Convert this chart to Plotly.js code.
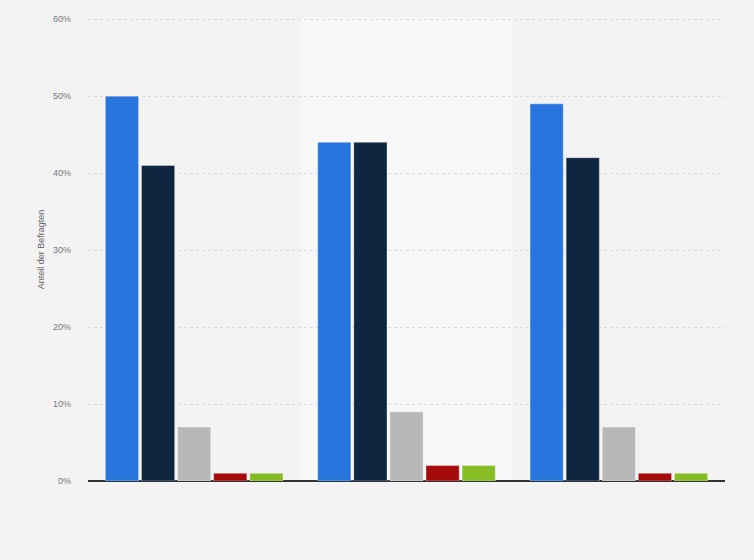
<!DOCTYPE html>
<html>
<head>
<meta charset="utf-8">
<script src="https://cdn.plot.ly/plotly-3.0.1.min.js"></script>
<style>html,body{margin:0;padding:0;background:#f3f3f3;}#chart{width:754px;height:560px;}</style>
</head>
<body>
<div id="chart"></div>
<script>
const categories = ["Gruppe 1", "Gruppe 2", "Gruppe 3"];
const seriesNames = ["Antwort 1", "Antwort 2", "Antwort 3", "Antwort 4", "Antwort 5"];
const series1 = [50, 44, 49];
const series2 = [41, 44, 42];
const series3 = [7, 9, 7];
const series4 = [1, 2, 1];
const series5 = [1, 2, 1];
const tickVals = [0, 10, 20, 30, 40, 50, 60];
const tickLabels = ["0%", "10%", "20%", "30%", "40%", "50%", "60%"];

const colors = ["#2876dd", "#0f2640", "#b8b8b8", "#a50a0a", "#86bc24"];
const allSeries = [series1, series2, series3, series4, series5];

const traces = allSeries.map((vals, i) => ({
  type: "bar",
  name: seriesNames[i],
  x: categories,
  y: vals,
  marker: {color: colors[i], line: {color: "rgba(255,255,255,0.35)", width: 1}},
  hoverinfo: "y"
}));

const layout = {
  width: 754, height: 560,
  paper_bgcolor: "#f3f3f3",
  plot_bgcolor: "#f3f3f3",
  margin: {l: 88, r: 29, t: 18, b: 79},
  showlegend: false,
  barmode: "group",
  bargap: 0.15,
  bargroupgap: 0.08,
  xaxis: {
    showticklabels: false,
    showgrid: false,
    zeroline: false,
    showline: false,
    ticks: ""
  },
  yaxis: {
    range: [0, 60.15],
    tickvals: tickVals,
    ticktext: tickLabels,
    showgrid: true,
    gridcolor: "#dadada",
    griddash: "dot",
    gridwidth: 1,
    zeroline: true,
    zerolinecolor: "#333333",
    zerolinewidth: 1.5,
    tickfont: {family: "Liberation Sans, Arial, sans-serif", size: 9, color: "#777777"},
    ticklabelstandoff: 16,
    title: {text: "Anteil der Befragten", font: {family: "Liberation Sans, Arial, sans-serif", size: 9, color: "#666666"}, standoff: 6},
    fixedrange: true
  },
  shapes: [{
    type: "rect", xref: "x", yref: "paper",
    x0: 0.5, x1: 1.5, y0: 0, y1: 1,
    fillcolor: "#f8f8f8", line: {width: 0}, layer: "below"
  }]
};

Plotly.newPlot("chart", traces, layout, {displayModeBar: false, staticPlot: true});
</script>
</body>
</html>
